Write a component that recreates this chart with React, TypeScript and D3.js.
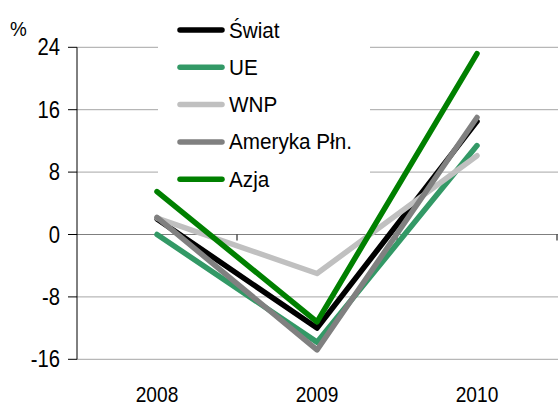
import React from "react";
import * as d3 from "d3";

const years = ["2008", "2009", "2010"];
const yTicks = [-16, -8, 0, 8, 16, 24];

const swiat = [2.0, -12.0, 14.5];
const ue = [0.0, -13.8, 11.4];
const wnp = [2.1, -5.0, 10.1];
const ameryka = [2.2, -14.8, 15.0];
const azja = [5.5, -11.2, 23.2];

const seriesNames = ["Świat", "UE", "WNP", "Ameryka Płn.", "Azja"];
const seriesColors = ["#000000", "#339966", "#c0c0c0", "#808080", "#008000"];
const seriesValues = [swiat, ue, wnp, ameryka, azja];

const W = 558;
const H = 406;
const left = 77;
const right = 557;
const top = 47.3;
const bottom = 359.3;
const FONT = "'Liberation Sans', Arial, sans-serif";

export default function App() {
  const x = d3.scaleBand<string>().domain(years).range([left, right]).padding(0);
  const y = d3.scaleLinear().domain([-16, 24]).range([bottom, top]);
  const line = d3
    .line<number>()
    .x((_, i) => (x(years[i]) as number) + x.bandwidth() / 2)
    .y((d) => y(d));

  const boundaries = years.map((yr) => (x(yr) as number) + x.bandwidth());

  return (
    <svg
      width={W}
      height={H}
      style={{ position: "absolute", left: 0, top: 0, background: "#fff" }}
      fontFamily={FONT}
    >
      {/* gridlines */}
      {yTicks
        .filter((t) => t !== 0)
        .map((t) => (
          <line key={t} x1={left} x2={W} y1={y(t)} y2={y(t)} stroke="#a6a6a6" strokeWidth={1} />
        ))}
      {/* zero axis */}
      <line x1={left} x2={W} y1={y(0)} y2={y(0)} stroke="#7f7f7f" strokeWidth={1} />
      {boundaries.map((b, i) => (
        <line key={i} x1={b} x2={b} y1={y(0)} y2={y(0) + 6} stroke="#000" strokeWidth={1} />
      ))}
      {/* y axis */}
      <line x1={left} x2={left} y1={top} y2={bottom} stroke="#000" strokeWidth={1} />
      {yTicks.map((t) => (
        <g key={t}>
          <line x1={left - 9} x2={left} y1={y(t)} y2={y(t)} stroke="#000" strokeWidth={1} />
          <g transform={`translate(${left - 17},${y(t) + 8}) scale(0.88,1)`}>
            <text textAnchor="end" fontSize={23} fill="#000">
              {t}
            </text>
          </g>
        </g>
      ))}
      {/* x labels */}
      {years.map((yr) => (
        <g key={yr} transform={`translate(${(x(yr) as number) + x.bandwidth() / 2},402) scale(0.87,1)`}>
          <text textAnchor="middle" fontSize={22} fill="#000">
            {yr}
          </text>
        </g>
      ))}
      <g transform="translate(10,36) scale(0.9,1)">
        <text fontSize={21} fill="#000">%</text>
      </g>
      {/* legend box */}
      <rect x={158} y={4} width={212} height={184} fill="#fff" />
      {seriesNames.map((n, i) => {
        const cy = 30 + i * 37.3;
        return (
          <g key={n}>
            <line
              x1={180}
              x2={222}
              y1={cy}
              y2={cy}
              stroke={seriesColors[i]}
              strokeWidth={5.5}
              strokeLinecap="round"
            />
            <g transform={`translate(229,${cy + 7.5}) scale(0.94,1)`}>
              <text fontSize={22} fill="#000">
                {n}
              </text>
            </g>
          </g>
        );
      })}
      {/* series */}
      {seriesValues.map((vals, i) => (
        <path
          key={seriesNames[i]}
          d={line(vals) || ""}
          fill="none"
          stroke={seriesColors[i]}
          strokeWidth={5.5}
          strokeLinecap="round"
          strokeLinejoin="round"
        />
      ))}
    </svg>
  );
}
